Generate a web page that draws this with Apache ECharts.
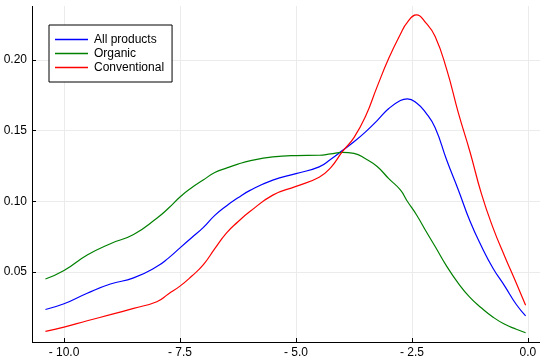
<!DOCTYPE html>
<html>
<head>
<meta charset="utf-8">
<script src="https://cdn.jsdelivr.net/npm/echarts@6/dist/echarts.min.js"></script>
<style>
html, body { margin: 0; padding: 0; background: #fff; }
#main { width: 558px; height: 362px; }
</style>
</head>
<body>
<div id="main"></div>
<script>
// x positions (log price) shared by all three density curves
var xs = [-10.4, -10.0, -9.5, -9.0, -8.5, -8.0, -7.75, -7.5, -7.25, -7.0, -6.75, -6.5, -6.25, -6.0, -5.5, -5.0, -4.5, -4.25,
    -4.0, -3.75, -3.5, -3.25, -3.0, -2.75, -2.6, -2.4, -2.2, -2.0, -1.75, -1.5, -1.25, -1.0, -0.75, -0.5, -0.25, -0.05];
var allProducts = [0.0235, 0.0275, 0.035, 0.0415, 0.0458, 0.0538, 0.0598, 0.067, 0.0742, 0.0813, 0.090, 0.0967, 0.1024, 0.1075, 0.1149, 0.1195, 0.1243, 0.1297,
    0.1358, 0.142, 0.149, 0.157, 0.1655, 0.1712, 0.1724, 0.1695, 0.1625, 0.152, 0.129, 0.108, 0.086, 0.068, 0.0525, 0.040, 0.027, 0.019];
var organic = [0.045, 0.051, 0.062, 0.070, 0.0765, 0.088, 0.095, 0.103, 0.1095, 0.115, 0.1203, 0.1234, 0.1262, 0.1285, 0.1313, 0.1323, 0.1325, 0.1335,
    0.1345, 0.1338, 0.130, 0.1245, 0.116, 0.108, 0.100, 0.0903, 0.079, 0.068, 0.054, 0.042, 0.032, 0.0245, 0.018, 0.013, 0.0095, 0.007];
var conventional = [0.008, 0.011, 0.0155, 0.0198, 0.0243, 0.029, 0.0345, 0.040, 0.047, 0.055, 0.0665, 0.0775, 0.0855, 0.0925, 0.1043, 0.1105, 0.117, 0.1238,
    0.135, 0.145, 0.160, 0.181, 0.201, 0.218, 0.2265, 0.2317, 0.226, 0.2165, 0.193, 0.1625, 0.135, 0.105, 0.081, 0.061, 0.042, 0.0265];
var xTicks = [-10.0, -7.5, -5.0, -2.5, 0.0];
var yTicks = [0.05, 0.10, 0.15, 0.20];
var seriesNames = ['All products', 'Organic', 'Conventional'];
var seriesColors = ['#0000ff', '#008000', '#ff0000'];

var xMin = -10.69, xMax = 0.26, yMin = 0.0005, yMax = 0.238;
var gridBox = { left: 32, right: 18, top: 6, bottom: 20 };
var W = 558, H = 362;
// tick length in data units (4px inward)
var xTickLen = 4 * (yMax - yMin) / (H - gridBox.top - gridBox.bottom);
var yTickLen = 4 * (xMax - xMin) / (W - gridBox.left - gridBox.right);

function pairs(ys) {
    return xs.map(function (x, i) { return [x, ys[i]]; });
}

function xLabel(v) {
    if (Math.abs(v) < 1e-9) return '0.0';
    return (v < 0 ? '- ' : '') + Math.abs(v).toFixed(1);
}

function seg(x1, y1, x2, y2, style) {
    return [{ coord: [x1, y1], lineStyle: style }, { coord: [x2, y2] }];
}

var font = '"Liberation Sans", "DejaVu Sans", sans-serif';
var chart = echarts.init(document.getElementById('main'));

var series = seriesNames.map(function (name, i) {
    return {
        name: name,
        type: 'line',
        data: pairs([allProducts, organic, conventional][i]),
        smooth: 0.5,
        symbol: 'none',
        color: seriesColors[i],
        lineStyle: { width: 1.2, color: seriesColors[i] },
        z: 3
    };
});

// light grid lines under the curves
var gridStyle = { color: '#ebebeb', width: 1, type: 'solid' };
var gridLines = xTicks.map(function (v) { return seg(v, yMin, v, yMax, gridStyle); })
    .concat(yTicks.map(function (v) { return seg(xMin, v, xMax, v, gridStyle); }));
series.push({
    name: 'grid',
    type: 'line',
    data: [],
    silent: true,
    z: 1,
    markLine: { silent: true, z: 1, symbol: 'none', label: { show: false }, animation: false, data: gridLines }
});

// axis lines and inward ticks
var axStyle = { color: '#000', width: 1, type: 'solid' };
var axisLines = [seg(xMin, yMin, xMax, yMin, axStyle), seg(xMin, yMin, xMin, yMax, axStyle)]
    .concat(xTicks.map(function (v) { return seg(v, yMin, v, yMin + xTickLen, axStyle); }))
    .concat(yTicks.map(function (v) { return seg(xMin, v, xMin + yTickLen, v, axStyle); }));
series.push({
    name: 'axes',
    type: 'line',
    data: [],
    silent: true,
    clip: false,
    z: 4,
    markLine: { silent: true, z: 4, symbol: 'none', label: { show: false }, animation: false, data: axisLines }
});

var option = {
    animation: false,
    backgroundColor: '#fff',
    grid: gridBox,
    legend: {
        data: seriesNames,
        orient: 'vertical',
        left: 49,
        top: 25,
        padding: [8, 8, 8, 6],
        icon: 'rect',
        itemWidth: 33,
        itemHeight: 1.5,
        itemGap: 1,
        borderColor: '#000',
        borderWidth: 1,
        borderRadius: 0,
        backgroundColor: '#fff',
        z: 10,
        textStyle: { fontFamily: font, fontSize: 12, color: '#000', lineHeight: 13, padding: [0, 0, 0, 1] }
    },
    xAxis: {
        type: 'value',
        min: xMin,
        max: xMax,
        axisLine: { show: false },
        axisTick: { show: false },
        axisLabel: { customValues: xTicks, formatter: xLabel, margin: 5, fontFamily: font, fontSize: 12, color: '#000' },
        splitLine: { show: false }
    },
    yAxis: {
        type: 'value',
        min: yMin,
        max: yMax,
        axisLine: { show: false },
        axisTick: { show: false },
        axisLabel: { customValues: yTicks, formatter: function (v) { return v.toFixed(2); }, margin: 5, fontFamily: font, fontSize: 12, color: '#000' },
        splitLine: { show: false }
    },
    series: series
};

chart.setOption(option);
</script>
</body>
</html>
